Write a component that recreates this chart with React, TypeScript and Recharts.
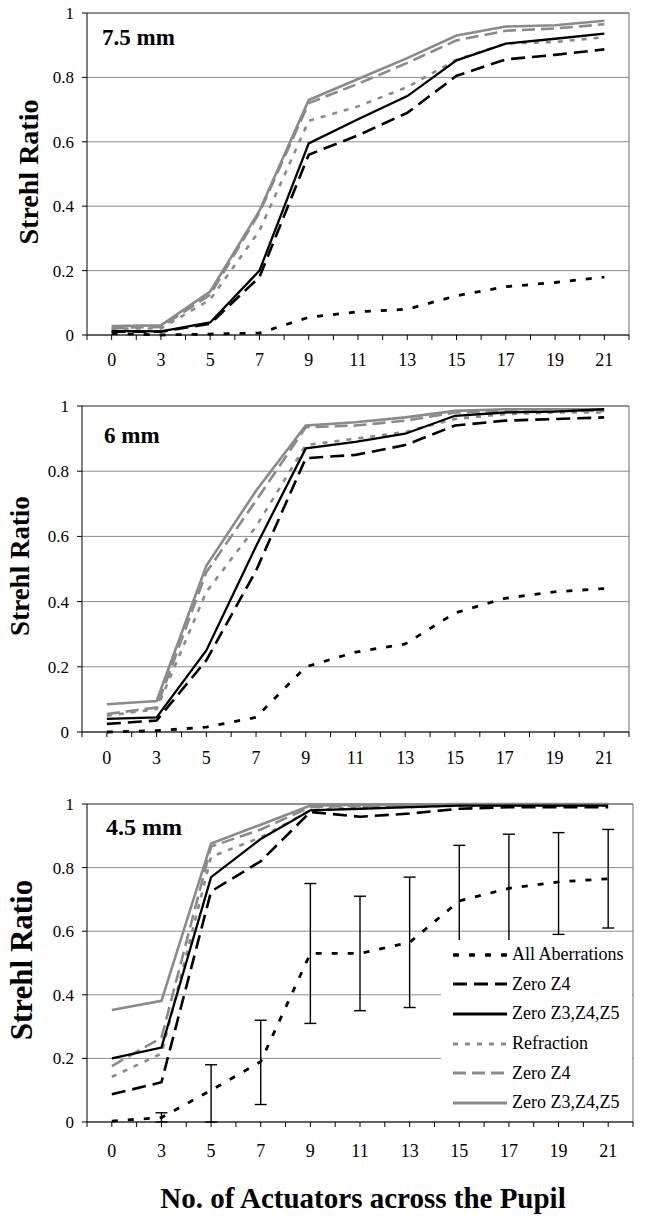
import {
  LineChart,
  Line,
  XAxis,
  YAxis,
  CartesianGrid,
  ReferenceLine,
  ErrorBar,
  Legend,
} from "recharts";

// category labels (no. of actuators across the pupil)
const actuators = ["0", "3", "5", "7", "9", "11", "13", "15", "17", "19", "21"];
const yTicks = [0, 0.2, 0.4, 0.6, 0.8, 1];

// 7.5 mm pupil
const allAb75 = [0.005, 0.0, 0.003, 0.006, 0.055, 0.072, 0.08, 0.122, 0.15, 0.163, 0.18];
const z4Blk75 = [0.01, 0.01, 0.035, 0.18, 0.56, 0.62, 0.69, 0.805, 0.856, 0.87, 0.887];
const z345Blk75 = [0.013, 0.011, 0.039, 0.2, 0.595, 0.67, 0.742, 0.853, 0.905, 0.92, 0.936];
const refr75 = [0.02, 0.02, 0.11, 0.324, 0.665, 0.71, 0.77, 0.855, 0.905, 0.91, 0.925];
const z4Gry75 = [0.022, 0.025, 0.125, 0.38, 0.72, 0.78, 0.845, 0.915, 0.945, 0.952, 0.965];
const z345Gry75 = [0.028, 0.03, 0.135, 0.386, 0.73, 0.795, 0.86, 0.93, 0.958, 0.962, 0.976];

// 6 mm pupil
const allAb6 = [0.0, 0.004, 0.015, 0.045, 0.2, 0.245, 0.27, 0.365, 0.41, 0.43, 0.44];
const z4Blk6 = [0.025, 0.035, 0.22, 0.495, 0.84, 0.85, 0.88, 0.94, 0.955, 0.96, 0.965];
const z345Blk6 = [0.04, 0.045, 0.25, 0.57, 0.87, 0.89, 0.915, 0.97, 0.98, 0.983, 0.99];
const refr6 = [0.05, 0.07, 0.43, 0.63, 0.88, 0.9, 0.92, 0.96, 0.975, 0.98, 0.98];
const z4Gry6 = [0.055, 0.075, 0.49, 0.71, 0.935, 0.94, 0.955, 0.98, 0.985, 0.985, 0.985];
const z345Gry6 = [0.085, 0.095, 0.51, 0.74, 0.94, 0.95, 0.965, 0.985, 0.99, 0.99, 0.99];

// 4.5 mm pupil
const allAb45 = [0.003, 0.014, 0.1, 0.19, 0.53, 0.53, 0.565, 0.695, 0.735, 0.755, 0.765];
const z4Blk45 = [0.087, 0.125, 0.725, 0.82, 0.975, 0.96, 0.97, 0.985, 0.99, 0.99, 0.99];
const z345Blk45 = [0.2, 0.234, 0.77, 0.89, 0.98, 0.985, 0.99, 0.995, 0.995, 0.995, 0.995];
const refr45 = [0.142, 0.215, 0.834, 0.895, 0.98, 0.99, 0.99, 0.995, 0.995, 0.995, 0.995];
const z4Gry45 = [0.176, 0.265, 0.866, 0.92, 0.99, 0.995, 0.995, 0.998, 0.998, 0.998, 0.998];
const z345Gry45 = [0.352, 0.381, 0.876, 0.935, 0.995, 0.998, 0.998, 1, 1, 1, 1];
// error bars on "All Aberrations" (below, above)
const errLow45 = [null, 0.014, 0.1, 0.135, 0.22, 0.18, 0.205, 0.175, 0.165, 0.165, 0.155];
const errHigh45 = [null, 0.015, 0.08, 0.13, 0.22, 0.18, 0.205, 0.175, 0.17, 0.155, 0.155];

const GRAY = "#8a8a8a";
const SERIF = "Liberation Serif, DejaVu Serif, serif";

const seriesStyle = [
  { key: "z345Gry", name: "Zero Z3,Z4,Z5", color: GRAY, dash: undefined, width: 2.6 },
  { key: "z4Gry", name: "Zero Z4", color: GRAY, dash: "13 6", width: 2.6 },
  { key: "refr", name: "Refraction", color: GRAY, dash: "5 7", width: 2.6 },
  { key: "z345Blk", name: "Zero Z3,Z4,Z5", color: "#000", dash: undefined, width: 2.3 },
  { key: "z4Blk", name: "Zero Z4", color: "#000", dash: "14 7", width: 2.6 },
  { key: "allAb", name: "All Aberrations", color: "#000", dash: "6 10", width: 2.8 },
];
const legendOrder = ["allAb", "z4Blk", "z345Blk", "refr", "z4Gry", "z345Gry"];

function buildRows(
  allAb: number[],
  z4Blk: number[],
  z345Blk: number[],
  refr: number[],
  z4Gry: number[],
  z345Gry: number[],
  lo?: (number | null)[],
  hi?: (number | null)[]
) {
  return actuators.map((_, i) => ({
    x: i,
    allAb: allAb[i],
    z4Blk: z4Blk[i],
    z345Blk: z345Blk[i],
    refr: refr[i],
    z4Gry: z4Gry[i],
    z345Gry: z345Gry[i],
    err: lo && hi && lo[i] != null ? [lo[i], hi[i]] : null,
  }));
}

const data75 = buildRows(allAb75, z4Blk75, z345Blk75, refr75, z4Gry75, z345Gry75);
const data6 = buildRows(allAb6, z4Blk6, z345Blk6, refr6, z4Gry6, z345Gry6);
const data45 = buildRows(allAb45, z4Blk45, z345Blk45, refr45, z4Gry45, z345Gry45, errLow45, errHigh45);

const xTicks = Array.from({ length: 2 * actuators.length + 1 }, (_, k) => k / 2 - 0.5);

function LegendBox() {
  return (
    <div style={{ background: "#fff", width: "100%", height: "100%", fontFamily: SERIF }}>
      {legendOrder.map((k, i) => {
        const s = seriesStyle.find((d) => d.key === k)!;
        return (
          <div
            key={i}
            style={{ height: 29.6, display: "flex", alignItems: "center", whiteSpace: "nowrap" }}
          >
            <svg width={70} height={10} style={{ flex: "none" }}>
              <line
                x1={12}
                x2={66}
                y1={5}
                y2={5}
                stroke={s.color}
                strokeWidth={s.width + 0.6}
                strokeDasharray={s.dash}
              />
            </svg>
            <span style={{ fontSize: 18, color: "#000", marginLeft: 1 }}>{s.name}</span>
          </div>
        );
      })}
    </div>
  );
}

interface PanelProps {
  data: any[];
  top: number;
  height: number;
  margin: { top: number; right: number; bottom: number; left: number };
  yAxisWidth: number;
  xAxisHeight: number;
  xTickMargin: number;
  withLegend?: boolean;
}

function Panel({ data, top, height, margin, yAxisWidth, xAxisHeight, xTickMargin, withLegend }: PanelProps) {
  return (
    <div style={{ position: "absolute", left: 0, top }}>
      <LineChart width={645} height={height} data={data} margin={margin}>
        <CartesianGrid vertical={false} stroke="#8c8c8c" strokeWidth={1} />
        <XAxis
          dataKey="x"
          type="number"
          domain={[-0.5, actuators.length - 0.5]}
          ticks={xTicks}
          interval={0}
          height={xAxisHeight}
          tickFormatter={(v: number) => (Number.isInteger(v) ? actuators[v] : "")}
          tick={{ fontFamily: SERIF, fontSize: 18, fill: "#000" }}
          tickSize={5}
          tickMargin={xTickMargin}
          stroke="#000"
          allowDecimals
        />
        <YAxis
          domain={[0, 1]}
          ticks={yTicks}
          width={yAxisWidth}
          tickFormatter={(v: number) => String(v)}
          tick={{ fontFamily: SERIF, fontSize: 17, fill: "#000" }}
          tickSize={5}
          tickMargin={8}
          stroke="#000"
        />
        <ReferenceLine y={1} stroke="#5a5a5a" strokeWidth={1} />
        <ReferenceLine x={actuators.length - 0.5} stroke="#6a6a6a" strokeWidth={1} />
        {seriesStyle.map((s) => (
          <Line
            key={s.key}
            type="linear"
            dataKey={s.key}
            name={s.name}
            stroke={s.color}
            strokeWidth={s.width}
            strokeDasharray={s.dash}
            dot={false}
            activeDot={false}
            isAnimationActive={false}
          >
            {withLegend && s.key === "allAb" ? (
              <ErrorBar dataKey="err" width={6} stroke="#000" strokeWidth={1.4} direction="y" />
            ) : null}
          </Line>
        ))}
        {withLegend ? (
          <Legend
            layout="horizontal"
            verticalAlign="middle"
            align="center"
            content={() => <LegendBox />}
            wrapperStyle={{ left: 441, top: 170, width: 191, height: 181, margin: 0 }}
          />
        ) : null}
      </LineChart>
    </div>
  );
}

export default function App() {
  return (
    <div
      style={{
        position: "absolute",
        left: 0,
        top: 0,
        width: 645,
        height: 1220,
        background: "#fff",
        overflow: "hidden",
        fontFamily: SERIF,
      }}
    >
      <Panel
        data={data75}
        top={0}
        height={370}
        margin={{ top: 13, right: 16, bottom: 5, left: 0 }}
        yAxisWidth={87}
        xAxisHeight={30}
        xTickMargin={13}
      />
      <Panel
        data={data6}
        top={370}
        height={400}
        margin={{ top: 36, right: 16, bottom: 8, left: 0 }}
        yAxisWidth={82}
        xAxisHeight={30}
        xTickMargin={14}
      />
      <Panel
        data={data45}
        top={770}
        height={390}
        margin={{ top: 34, right: 12, bottom: 3, left: 0 }}
        yAxisWidth={87}
        xAxisHeight={35}
        xTickMargin={17}
        withLegend
      />
      <svg
        width={645}
        height={1220}
        style={{ position: "absolute", left: 0, top: 0, pointerEvents: "none", fontFamily: SERIF }}
        fontWeight="bold"
      >
        <text x={102} y={45} fontSize={23}>7.5 mm</text>
        <text x={104} y={443} fontSize={23}>6 mm</text>
        <text x={106} y={835} fontSize={24}>4.5 mm</text>
        <text
          x={28}
          y={172}
          fontSize={28}
          textAnchor="middle"
          dominantBaseline="central"
          transform="rotate(-90 28 172)"
        >
          Strehl Ratio
        </text>
        <text
          x={20}
          y={566}
          fontSize={27}
          textAnchor="middle"
          dominantBaseline="central"
          transform="rotate(-90 20 566)"
        >
          Strehl Ratio
        </text>
        <text
          x={21}
          y={960}
          fontSize={31}
          textAnchor="middle"
          dominantBaseline="central"
          transform="rotate(-90 21 960)"
        >
          Strehl Ratio
        </text>
        <text x={363} y={1208} fontSize={29} textAnchor="middle">
          No. of Actuators across the Pupil
        </text>
      </svg>
    </div>
  );
}
